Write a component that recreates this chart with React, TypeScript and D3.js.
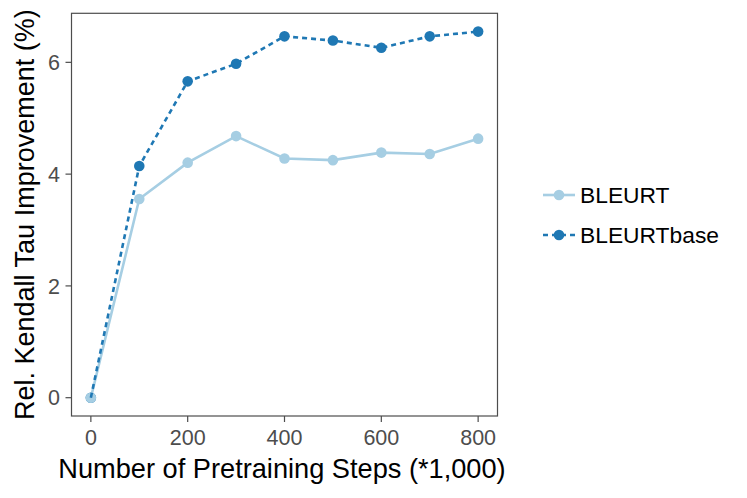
import React from 'react';
import * as d3 from 'd3';

const steps = [0, 100, 200, 300, 400, 500, 600, 700, 800];
const bleurt = [0, 3.555, 4.205, 4.68, 4.28, 4.25, 4.385, 4.36, 4.635];
const bleurtBase = [0, 4.145, 5.66, 5.975, 6.465, 6.39, 6.26, 6.465, 6.55];
const xTicks = [0, 200, 400, 600, 800];
const yTicks = [0, 2, 4, 6];

const seriesNames = ['BLEURT', 'BLEURTbase'];
const seriesColors = ['#a6cee3', '#1f78b4'];
const seriesDash = [null, '5,4'];

const W = 747;
const H = 498;
const FONT = '"Liberation Sans", Arial, Helvetica, sans-serif';

export default function App() {
  const margin = { left: 71.5, right: 249.5, top: 13.3, bottom: 82 };
  const innerLeft = margin.left;
  const innerRight = W - margin.right;
  const innerTop = margin.top;
  const innerBottom = H - margin.bottom;

  // ggplot-style 5% expansion
  const xExt = d3.extent(steps) as [number, number];
  const xPad = (xExt[1] - xExt[0]) * 0.05;
  const allY = [...bleurt, ...bleurtBase];
  const yExt = d3.extent(allY) as [number, number];
  const yPad = (yExt[1] - yExt[0]) * 0.05;

  const x = d3.scaleLinear().domain([xExt[0] - xPad, xExt[1] + xPad]).range([innerLeft, innerRight]);
  const y = d3.scaleLinear().domain([yExt[0] - yPad, yExt[1] + yPad]).range([innerBottom, innerTop]);

  const series = [bleurt, bleurtBase];
  const line = d3.line<number>().x((_, i) => x(steps[i])).y(d => y(d));

  const axisColor = '#4d4d4d';
  const legendY = [195, 235];

  return (
    <svg width={W} height={H} style={{ position: 'absolute', left: 0, top: 0, background: '#fff' }}>
      {/* points first, base below so BLEURT sits on top at origin */}
      {[1, 0].map(s => (
        <g key={'pts' + s} fill={seriesColors[s]}>
          {series[s].map((v, i) => (
            <circle key={i} cx={x(steps[i])} cy={y(v)} r={5.3} />
          ))}
        </g>
      ))}
      {[0, 1].map(s => (
        <path
          key={'ln' + s}
          d={line(series[s]) || ''}
          fill="none"
          stroke={seriesColors[s]}
          strokeWidth={2.6}
          strokeDasharray={seriesDash[s] || undefined}
        />
      ))}

      {/* panel border */}
      <rect
        x={innerLeft}
        y={innerTop}
        width={innerRight - innerLeft}
        height={innerBottom - innerTop}
        fill="none"
        stroke={axisColor}
        strokeWidth={1.2}
      />

      {/* x axis */}
      {xTicks.map(t => (
        <g key={'xt' + t}>
          <line x1={x(t)} x2={x(t)} y1={innerBottom} y2={innerBottom + 6} stroke={axisColor} strokeWidth={1.2} />
          <text x={x(t)} y={445} textAnchor="middle" fontFamily={FONT} fontSize={21.5} fill={axisColor}>
            {t}
          </text>
        </g>
      ))}
      {/* y axis */}
      {yTicks.map(t => (
        <g key={'yt' + t}>
          <line x1={innerLeft - 6} x2={innerLeft} y1={y(t)} y2={y(t)} stroke={axisColor} strokeWidth={1.2} />
          <text x={60} y={y(t)} dy="0.36em" textAnchor="end" fontFamily={FONT} fontSize={21.5} fill={axisColor}>
            {t}
          </text>
        </g>
      ))}

      <text x={282} y={478} textAnchor="middle" fontFamily={FONT} fontSize={27.2} fill="#000">
        Number of Pretraining Steps (*1,000)
      </text>
      <text
        transform={`translate(34,${(innerTop + innerBottom) / 2}) rotate(-90)`}
        textAnchor="middle"
        fontFamily={FONT}
        fontSize={27}
        fill="#000"
      >
        Rel. Kendall Tau Improvement (%)
      </text>

      {/* legend */}
      {seriesNames.map((name, s) => (
        <g key={name}>
          <line
            x1={543}
            x2={575}
            y1={legendY[s]}
            y2={legendY[s]}
            stroke={seriesColors[s]}
            strokeWidth={2.6}
            strokeDasharray={seriesDash[s] || undefined}
          />
          <circle cx={559} cy={legendY[s]} r={5.3} fill={seriesColors[s]} />
          <text x={580} y={legendY[s]} dy="0.36em" fontFamily={FONT} fontSize={22.8} fill="#000">
            {name}
          </text>
        </g>
      ))}
    </svg>
  );
}
